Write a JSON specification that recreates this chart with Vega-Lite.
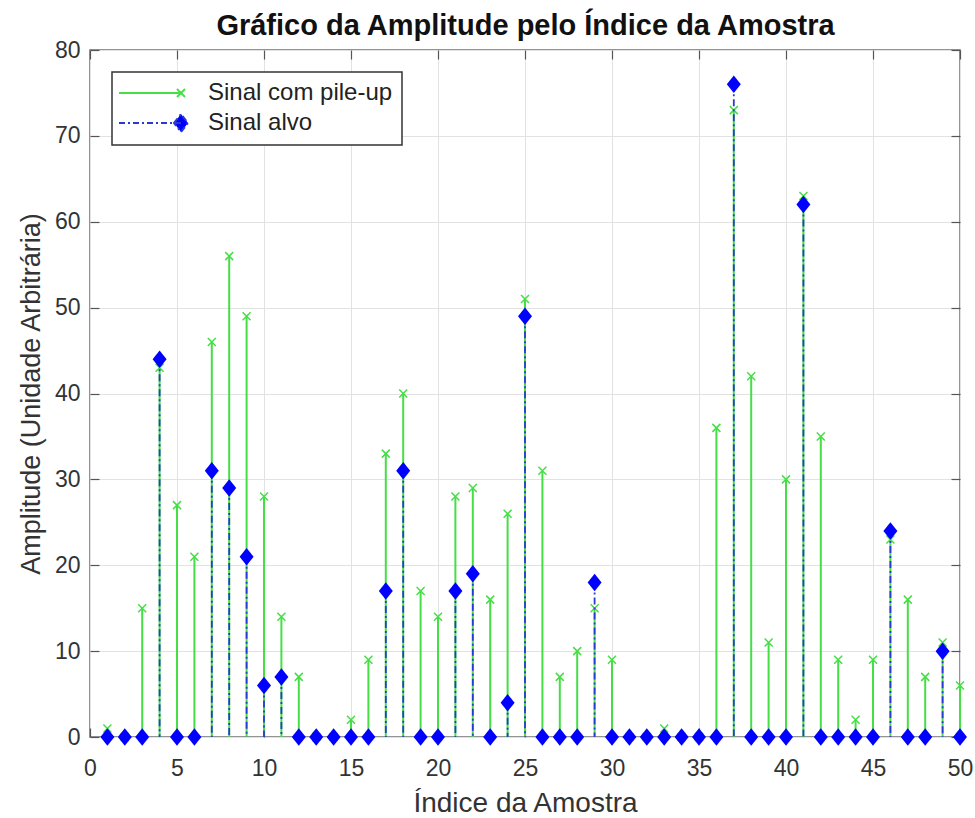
{
  "$schema": "https://vega.github.io/schema/vega-lite/v6.json",
  "width": 870,
  "height": 687,
  "autosize": "none",
  "padding": {"left": 90, "top": 50, "right": 15, "bottom": 81},
  "background": "white",
  "config": {
    "view": {"stroke": "#707070", "strokeWidth": 1.5},
    "axis": {
      "labelFont": "Liberation Sans",
      "labelFontSize": 23,
      "labelColor": "#333333",
      "labelFlush": false,
      "titleFont": "Liberation Sans",
      "titleFontSize": 27,
      "titleFontWeight": "normal",
      "titleColor": "#333333",
      "gridColor": "#e2e2e2",
      "gridWidth": 1,
      "domain": false,
      "tickColor": "#555555",
      "tickWidth": 1.2,
      "tickSize": -9
    }
  },
  "data": {
    "values": [
      {"i": 1, "serie": "Sinal com pile-up", "v": 1},
      {"i": 2, "serie": "Sinal com pile-up", "v": 0},
      {"i": 3, "serie": "Sinal com pile-up", "v": 15},
      {"i": 4, "serie": "Sinal com pile-up", "v": 43},
      {"i": 5, "serie": "Sinal com pile-up", "v": 27},
      {"i": 6, "serie": "Sinal com pile-up", "v": 21},
      {"i": 7, "serie": "Sinal com pile-up", "v": 46},
      {"i": 8, "serie": "Sinal com pile-up", "v": 56},
      {"i": 9, "serie": "Sinal com pile-up", "v": 49},
      {"i": 10, "serie": "Sinal com pile-up", "v": 28},
      {"i": 11, "serie": "Sinal com pile-up", "v": 14},
      {"i": 12, "serie": "Sinal com pile-up", "v": 7},
      {"i": 13, "serie": "Sinal com pile-up", "v": 0},
      {"i": 14, "serie": "Sinal com pile-up", "v": 0},
      {"i": 15, "serie": "Sinal com pile-up", "v": 2},
      {"i": 16, "serie": "Sinal com pile-up", "v": 9},
      {"i": 17, "serie": "Sinal com pile-up", "v": 33},
      {"i": 18, "serie": "Sinal com pile-up", "v": 40},
      {"i": 19, "serie": "Sinal com pile-up", "v": 17},
      {"i": 20, "serie": "Sinal com pile-up", "v": 14},
      {"i": 21, "serie": "Sinal com pile-up", "v": 28},
      {"i": 22, "serie": "Sinal com pile-up", "v": 29},
      {"i": 23, "serie": "Sinal com pile-up", "v": 16},
      {"i": 24, "serie": "Sinal com pile-up", "v": 26},
      {"i": 25, "serie": "Sinal com pile-up", "v": 51},
      {"i": 26, "serie": "Sinal com pile-up", "v": 31},
      {"i": 27, "serie": "Sinal com pile-up", "v": 7},
      {"i": 28, "serie": "Sinal com pile-up", "v": 10},
      {"i": 29, "serie": "Sinal com pile-up", "v": 15},
      {"i": 30, "serie": "Sinal com pile-up", "v": 9},
      {"i": 31, "serie": "Sinal com pile-up", "v": 0},
      {"i": 32, "serie": "Sinal com pile-up", "v": 0},
      {"i": 33, "serie": "Sinal com pile-up", "v": 1},
      {"i": 34, "serie": "Sinal com pile-up", "v": 0},
      {"i": 35, "serie": "Sinal com pile-up", "v": 0},
      {"i": 36, "serie": "Sinal com pile-up", "v": 36},
      {"i": 37, "serie": "Sinal com pile-up", "v": 73},
      {"i": 38, "serie": "Sinal com pile-up", "v": 42},
      {"i": 39, "serie": "Sinal com pile-up", "v": 11},
      {"i": 40, "serie": "Sinal com pile-up", "v": 30},
      {"i": 41, "serie": "Sinal com pile-up", "v": 63},
      {"i": 42, "serie": "Sinal com pile-up", "v": 35},
      {"i": 43, "serie": "Sinal com pile-up", "v": 9},
      {"i": 44, "serie": "Sinal com pile-up", "v": 2},
      {"i": 45, "serie": "Sinal com pile-up", "v": 9},
      {"i": 46, "serie": "Sinal com pile-up", "v": 23},
      {"i": 47, "serie": "Sinal com pile-up", "v": 16},
      {"i": 48, "serie": "Sinal com pile-up", "v": 7},
      {"i": 49, "serie": "Sinal com pile-up", "v": 11},
      {"i": 50, "serie": "Sinal com pile-up", "v": 6},
      {"i": 1, "serie": "Sinal alvo", "v": 0},
      {"i": 2, "serie": "Sinal alvo", "v": 0},
      {"i": 3, "serie": "Sinal alvo", "v": 0},
      {"i": 4, "serie": "Sinal alvo", "v": 44},
      {"i": 5, "serie": "Sinal alvo", "v": 0},
      {"i": 6, "serie": "Sinal alvo", "v": 0},
      {"i": 7, "serie": "Sinal alvo", "v": 31},
      {"i": 8, "serie": "Sinal alvo", "v": 29},
      {"i": 9, "serie": "Sinal alvo", "v": 21},
      {"i": 10, "serie": "Sinal alvo", "v": 6},
      {"i": 11, "serie": "Sinal alvo", "v": 7},
      {"i": 12, "serie": "Sinal alvo", "v": 0},
      {"i": 13, "serie": "Sinal alvo", "v": 0},
      {"i": 14, "serie": "Sinal alvo", "v": 0},
      {"i": 15, "serie": "Sinal alvo", "v": 0},
      {"i": 16, "serie": "Sinal alvo", "v": 0},
      {"i": 17, "serie": "Sinal alvo", "v": 17},
      {"i": 18, "serie": "Sinal alvo", "v": 31},
      {"i": 19, "serie": "Sinal alvo", "v": 0},
      {"i": 20, "serie": "Sinal alvo", "v": 0},
      {"i": 21, "serie": "Sinal alvo", "v": 17},
      {"i": 22, "serie": "Sinal alvo", "v": 19},
      {"i": 23, "serie": "Sinal alvo", "v": 0},
      {"i": 24, "serie": "Sinal alvo", "v": 4},
      {"i": 25, "serie": "Sinal alvo", "v": 49},
      {"i": 26, "serie": "Sinal alvo", "v": 0},
      {"i": 27, "serie": "Sinal alvo", "v": 0},
      {"i": 28, "serie": "Sinal alvo", "v": 0},
      {"i": 29, "serie": "Sinal alvo", "v": 18},
      {"i": 30, "serie": "Sinal alvo", "v": 0},
      {"i": 31, "serie": "Sinal alvo", "v": 0},
      {"i": 32, "serie": "Sinal alvo", "v": 0},
      {"i": 33, "serie": "Sinal alvo", "v": 0},
      {"i": 34, "serie": "Sinal alvo", "v": 0},
      {"i": 35, "serie": "Sinal alvo", "v": 0},
      {"i": 36, "serie": "Sinal alvo", "v": 0},
      {"i": 37, "serie": "Sinal alvo", "v": 76},
      {"i": 38, "serie": "Sinal alvo", "v": 0},
      {"i": 39, "serie": "Sinal alvo", "v": 0},
      {"i": 40, "serie": "Sinal alvo", "v": 0},
      {"i": 41, "serie": "Sinal alvo", "v": 62},
      {"i": 42, "serie": "Sinal alvo", "v": 0},
      {"i": 43, "serie": "Sinal alvo", "v": 0},
      {"i": 44, "serie": "Sinal alvo", "v": 0},
      {"i": 45, "serie": "Sinal alvo", "v": 0},
      {"i": 46, "serie": "Sinal alvo", "v": 24},
      {"i": 47, "serie": "Sinal alvo", "v": 0},
      {"i": 48, "serie": "Sinal alvo", "v": 0},
      {"i": 49, "serie": "Sinal alvo", "v": 10},
      {"i": 50, "serie": "Sinal alvo", "v": 0}
    ]
  },
  "layer": [
    {
      "encoding": {
        "x": {
          "field": "i",
          "type": "quantitative",
          "scale": {"domain": [0, 50], "nice": false},
          "axis": {
            "orient": "bottom",
            "values": [0, 5, 10, 15, 20, 25, 30, 35, 40, 45, 50],
            "grid": true,
            "labelPadding": 29,
            "title": "Índice da Amostra",
            "titleFontSize": 28,
            "titlePadding": 9
          }
        },
        "y": {
          "field": "v",
          "type": "quantitative",
          "scale": {"domain": [0, 80], "nice": false},
          "axis": {
            "orient": "left",
            "values": [0, 10, 20, 30, 40, 50, 60, 70, 80],
            "grid": true,
            "labelPadding": 19,
            "title": "Amplitude (Unidade Arbitrária)",
            "titlePadding": 9
          }
        }
      },
      "layer": [
        {
          "transform": [{"filter": "datum.serie === 'Sinal com pile-up'"}],
          "mark": {"type": "rule", "strokeWidth": 2},
          "encoding": {
            "y2": {"datum": 0},
            "color": {
              "field": "serie",
              "type": "nominal",
              "scale": {
                "domain": ["Sinal com pile-up", "Sinal alvo"],
                "range": ["#45de45", "#2a3ad0"]
              },
              "legend": {
                "title": null,
                "orient": "top-left",
                "offset": 22,
                "padding": 9,
                "fillColor": "white",
                "strokeColor": "#333333",
                "rowPadding": 5,
                "symbolSize": 4,
                "symbolStrokeWidth": 2,
                "labelOffset": 63,
                "labelFont": "Liberation Sans",
                "labelFontSize": 24,
                "labelColor": "#222222",
                "labelLimit": 400,
                "encode": {
                  "legend": {"update": {"strokeWidth": {"value": 1.5}}},
                  "symbols": {
                    "update": {
                      "shape": {"signal": "datum.value === 'Sinal alvo' ? 'M-14,0H48M41,0L48,-9L55,0L48,9Z' : 'M-14,0H48M44,-4L52,4M44,4L52,-4'"},
                      "size": {"value": 4},
                      "fill": {"signal": "datum.value === 'Sinal alvo' ? '#0000ff' : 'transparent'"},
                      "stroke": {"signal": "datum.value === 'Sinal alvo' ? '#2a3ad0' : '#45de45'"},
                      "strokeWidth": {"value": 2},
                      "strokeDash": {"signal": "datum.value === 'Sinal alvo' ? [6, 3, 2, 3] : [1, 0]"},
                      "opacity": {"value": 1}
                    }
                  }
                }
              }
            }
          }
        },
        {
          "transform": [{"filter": "datum.serie === 'Sinal com pile-up'"}],
          "mark": {
            "type": "point",
            "shape": "M-1,-1L1,1M-1,1L1,-1",
            "size": 64,
            "filled": false,
            "color": "#45de45",
            "strokeWidth": 1.5,
            "opacity": 1
          }
        },
        {
          "transform": [{"filter": "datum.serie === 'Sinal alvo'"}],
          "mark": {"type": "rule", "strokeWidth": 1.8, "strokeDash": [7, 3, 2, 3]},
          "encoding": {
            "y2": {"datum": 0},
            "color": {"field": "serie", "type": "nominal"}
          }
        },
        {
          "transform": [{"filter": "datum.serie === 'Sinal alvo'"}],
          "mark": {
            "type": "point",
            "shape": "M-1,0L0,-1.25L1,0L0,1.25Z",
            "size": 196,
            "filled": true,
            "color": "#0000ff",
            "strokeWidth": 0,
            "opacity": 1
          }
        }
      ]
    },
    {
      "mark": {"type": "point", "opacity": 0},
      "encoding": {
        "x": {
          "field": "i",
          "type": "quantitative",
          "axis": {
            "orient": "top",
            "values": [0, 5, 10, 15, 20, 25, 30, 35, 40, 45, 50],
            "labels": false,
            "grid": false,
            "title": "Gráfico da Amplitude pelo Índice da Amostra",
            "titleFontSize": 29,
            "titleFontWeight": "bold",
            "titleColor": "#111111",
            "titlePadding": 9
          }
        },
        "y": {
          "field": "v",
          "type": "quantitative",
          "axis": {
            "orient": "right",
            "values": [0, 10, 20, 30, 40, 50, 60, 70, 80],
            "labels": false,
            "grid": false,
            "title": null
          }
        }
      }
    }
  ],
  "resolve": {"axis": {"x": "independent", "y": "independent"}}
}
